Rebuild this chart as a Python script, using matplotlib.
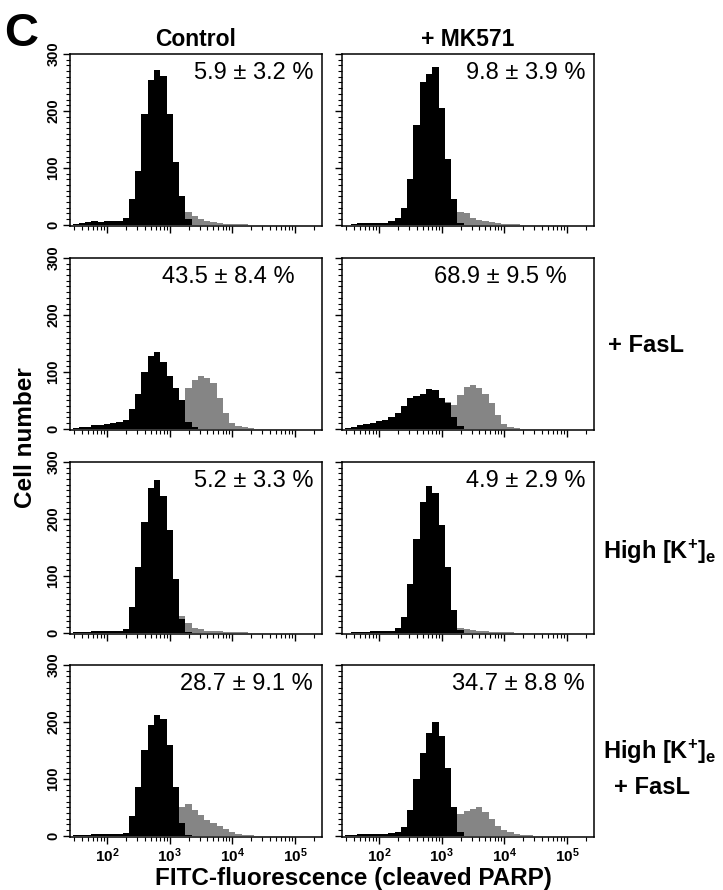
import numpy as np
import matplotlib
matplotlib.use('Agg')
import matplotlib.pyplot as plt
from matplotlib.ticker import MultipleLocator, LogLocator, FixedLocator, NullFormatter

plt.rcParams['font.family'] = ['Liberation Sans', 'DejaVu Sans']
plt.rcParams['mathtext.fontset'] = 'custom'
plt.rcParams['mathtext.rm'] = 'Liberation Sans:bold'
plt.rcParams['mathtext.bf'] = 'Liberation Sans:bold'
plt.rcParams['mathtext.it'] = 'Liberation Sans:bold'

# log10 bin centres shared by all histograms
log_centers = [1.5, 1.6, 1.7, 1.8, 1.9, 2.0, 2.1, 2.2, 2.3, 2.4, 2.5, 2.6, 2.7, 2.8, 2.9, 3.0,
               3.1, 3.2, 3.3, 3.4, 3.5, 3.6, 3.7, 3.8, 3.9, 4.0, 4.1, 4.2, 4.3, 4.4, 4.5]

# black = PARP negative, grey = cleaved PARP positive
ctrl_neg = [1, 3, 5, 6, 5, 6, 6, 7, 12, 45, 95, 195, 255, 272, 262, 195, 110, 50, 10,
            0, 0, 0, 0, 0, 0, 0, 0, 0, 0, 0, 0]
ctrl_pos = [0, 0, 0, 0, 0, 0, 0, 0, 0, 0, 0, 3, 8, 12, 14, 18, 22, 25, 22, 16, 11, 7, 5, 3, 2,
            1, 1, 1, 0, 0, 0]
mk_neg = [0, 2, 3, 3, 3, 4, 4, 6, 12, 30, 80, 175, 250, 265, 278, 205, 115, 45, 3,
          0, 0, 0, 0, 0, 0, 0, 0, 0, 0, 0, 0]
mk_pos = [0, 0, 0, 0, 0, 0, 0, 0, 0, 0, 0, 3, 6, 8, 10, 12, 15, 18, 22, 20, 12, 8, 6, 5, 3,
          2, 1, 1, 0, 0, 0]

fas_ctrl_neg = [1, 3, 4, 6, 7, 8, 10, 12, 16, 35, 62, 100, 128, 135, 118, 92, 72, 50, 12, 3,
                0, 0, 0, 0, 0, 0, 0, 0, 0, 0, 0]
fas_ctrl_pos = [0, 0, 0, 0, 0, 0, 0, 0, 0, 0, 0, 4, 8, 12, 16, 20, 26, 40, 72, 86, 92, 90, 80,
                55, 28, 10, 5, 3, 2, 0, 0]
fas_mk_neg = [1, 4, 6, 9, 11, 13, 16, 20, 28, 40, 54, 58, 62, 70, 68, 55, 45, 20, 5,
              0, 0, 0, 0, 0, 0, 0, 0, 0, 0, 0, 0]
fas_mk_pos = [0, 0, 0, 0, 0, 0, 0, 0, 0, 0, 0, 10, 20, 30, 38, 44, 47, 42, 60, 73, 77, 72, 62,
              45, 25, 8, 3, 1, 0, 0, 0]

k_ctrl_neg = [1, 2, 2, 3, 3, 3, 4, 4, 6, 45, 115, 195, 255, 268, 240, 180, 95, 25, 2,
              0, 0, 0, 0, 0, 0, 0, 0, 0, 0, 0, 0]
k_ctrl_pos = [0, 0, 0, 0, 0, 0, 0, 0, 0, 0, 0, 0, 0, 0, 8, 15, 25, 30, 18, 9, 6, 4, 3, 3, 2,
              2, 1, 1, 0, 0, 0]
k_mk_neg = [0, 1, 2, 2, 3, 3, 4, 4, 8, 28, 85, 165, 230, 258, 245, 190, 115, 40, 5,
            0, 0, 0, 0, 0, 0, 0, 0, 0, 0, 0, 0]
k_mk_pos = [0, 0, 0, 0, 0, 0, 0, 0, 0, 0, 0, 0, 0, 0, 0, 0, 6, 10, 8, 6, 5, 4, 3, 2, 2,
            1, 1, 0, 0, 0, 0]

kf_ctrl_neg = [1, 2, 2, 3, 3, 3, 3, 4, 5, 35, 85, 150, 195, 212, 205, 160, 85, 22, 2,
               0, 0, 0, 0, 0, 0, 0, 0, 0, 0, 0, 0]
kf_ctrl_pos = [0, 0, 0, 0, 0, 0, 0, 0, 0, 0, 0, 0, 0, 8, 15, 25, 38, 50, 56, 46, 36, 28, 22,
               17, 12, 7, 4, 2, 1, 0, 0]
kf_mk_neg = [1, 2, 3, 3, 3, 3, 4, 5, 7, 16, 45, 100, 145, 180, 200, 175, 120, 50, 6,
             0, 0, 0, 0, 0, 0, 0, 0, 0, 0, 0, 0]
kf_mk_pos = [0, 0, 0, 0, 0, 0, 0, 0, 0, 0, 0, 0, 0, 10, 15, 22, 28, 33, 38, 43, 47, 50, 42,
             30, 18, 11, 6, 3, 2, 1, 0]

percent_labels = [['5.9 ± 3.2 %', '9.8 ± 3.9 %'],
                  ['43.5 ± 8.4 %', '68.9 ± 9.5 %'],
                  ['5.2 ± 3.3 %', '4.9 ± 2.9 %'],
                  ['28.7 ± 9.1 %', '34.7 ± 8.8 %']]
neg_data = [[ctrl_neg, mk_neg], [fas_ctrl_neg, fas_mk_neg],
            [k_ctrl_neg, k_mk_neg], [kf_ctrl_neg, kf_mk_neg]]
pos_data = [[ctrl_pos, mk_pos], [fas_ctrl_pos, fas_mk_pos],
            [k_ctrl_pos, k_mk_pos], [kf_ctrl_pos, kf_mk_pos]]
col_titles = ['Control', '+ MK571']

W, H = 723, 890
fig = plt.figure(figsize=(W / 100, H / 100), dpi=100)

centers = np.array(log_centers)
edges = np.append(centers - 0.05, centers[-1] + 0.05)
x_edges = 10 ** edges

col_left = [70, 342]
row_top = [54, 258, 462, 665]
pw, ph = 252, 172
grey = '#858585'

for r in range(4):
    for c in range(2):
        ax = fig.add_axes([col_left[c] / W, 1 - (row_top[r] + ph) / H, pw / W, ph / H])
        ax.stairs(pos_data[r][c], x_edges, fill=True, color=grey, lw=0)
        ax.stairs(neg_data[r][c], x_edges, fill=True, color='black', lw=0)
        ax.set_xscale('log')
        ax.set_xlim(10 ** 1.41, 10 ** 5.43)
        ax.set_ylim(-2, 300)
        ax.xaxis.set_major_locator(FixedLocator([1e2, 1e3, 1e4, 1e5]))
        ax.xaxis.set_minor_locator(LogLocator(base=10, subs=range(2, 10)))
        ax.xaxis.set_minor_formatter(NullFormatter())
        ax.yaxis.set_major_locator(MultipleLocator(100))
        ax.yaxis.set_minor_locator(MultipleLocator(10))
        ax.tick_params(which='major', direction='out', length=5, width=1, pad=2)
        ax.tick_params(which='minor', direction='out', length=3, width=0.8)
        for s in ax.spines.values():
            s.set_linewidth(1.1)
        if c == 0:
            ax.set_yticks([0, 100, 200, 300])
            ax.set_yticklabels(['0', '100', '200', '300'], rotation=90, va='center',
                               fontsize=10.5, fontweight='bold')
        else:
            ax.set_yticklabels([])
        if r == 3:
            ax.set_xticklabels([r'$10^{2}$', r'$10^{3}$', r'$10^{4}$', r'$10^{5}$'], fontsize=11)
        else:
            ax.set_xticklabels([])
        margin = 27 if r == 1 else 9
        ax.text(1 - margin / pw, 1 - 19 / ph, percent_labels[r][c], transform=ax.transAxes,
                ha='right', va='center', fontsize=17)
        if r == 0:
            ax.set_title(col_titles[c], fontsize=16.5, fontweight='bold', pad=6)

fig.text(4 / W, 1 - 46 / H, 'C', fontsize=34, fontweight='bold', va='baseline')
fig.text(26 / W, 1 - 438 / H, 'Cell number', rotation=90, ha='center', va='center',
         fontsize=17.5, fontweight='bold')
fig.text(353 / W, 1 - 879 / H, 'FITC-fluorescence (cleaved PARP)', ha='center', va='center',
         fontsize=17.5, fontweight='bold')
fig.text(646 / W, 1 - 345 / H, '+ FasL', ha='center', va='center', fontsize=17, fontweight='bold')
fig.text(660 / W, 1 - 552 / H, r'High [K$^{+}$]$_{e}$', ha='center', va='center',
         fontsize=17, fontweight='bold')
fig.text(660 / W, 1 - 752 / H, r'High [K$^{+}$]$_{e}$', ha='center', va='center',
         fontsize=17, fontweight='bold')
fig.text(652 / W, 1 - 787 / H, '+ FasL', ha='center', va='center', fontsize=17, fontweight='bold')

fig.savefig('out.png', dpi=100)
